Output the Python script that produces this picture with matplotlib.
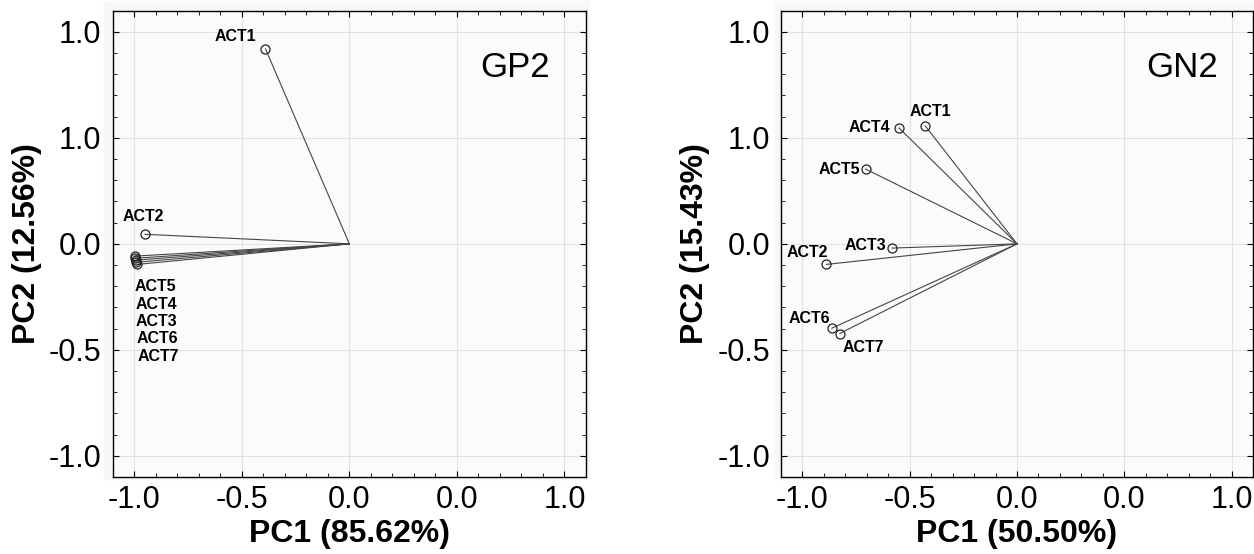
import matplotlib
matplotlib.use("Agg")
import matplotlib.pyplot as plt
from matplotlib.ticker import MultipleLocator
from matplotlib.patches import Rectangle

plt.rcParams['font.family'] = ['Liberation Sans', 'DejaVu Sans']

# ---- data (loadings) ----
gp2_names = ['ACT1', 'ACT2', 'ACT5', 'ACT4', 'ACT3', 'ACT6', 'ACT7']
gp2_pc1 = [-0.39, -0.95, -0.998, -0.995, -0.992, -0.99, -0.985]
gp2_pc2 = [0.92, 0.045, -0.058, -0.068, -0.077, -0.087, -0.097]

gn2_names = ['ACT1', 'ACT2', 'ACT3', 'ACT4', 'ACT5', 'ACT6', 'ACT7']
gn2_pc1 = [-0.428, -0.888, -0.582, -0.55, -0.706, -0.863, -0.826]
gn2_pc2 = [0.557, -0.097, -0.02, 0.547, 0.353, -0.398, -0.423]

tick_vals = [-1.0, -0.5, 0.0, 0.5, 1.0]
xtick_labels = ['-1.0', '-0.5', '0.0', '0.0', '1.0']
ytick_labels = ['-1.0', '-0.5', '0.0', '1.0', '1.0']

# label placement: offset in points, ha, va
gp2_lab = {'ACT1': (-7, 9, 'right', 'center'), 'ACT2': (-1, 13, 'center', 'center'),
           'ACT5': (0, -22, 'left', 'center'), 'ACT4': (0, -33, 'left', 'center'),
           'ACT3': (0, -44, 'left', 'center'), 'ACT6': (0, -55, 'left', 'center'),
           'ACT7': (0, -66, 'left', 'center')}
gn2_lab = {'ACT1': (3.5, 10, 'center', 'center'), 'ACT2': (1.5, 8.6, 'right', 'center'),
           'ACT3': (-4.5, 2, 'right', 'center'), 'ACT4': (-6, 0, 'right', 'center'),
           'ACT5': (-3.6, 0, 'right', 'center'), 'ACT6': (-1.2, 6.7, 'right', 'center'),
           'ACT7': (2, -10.3, 'left', 'center')}


def panel(ax, names, pc1, pc2, labs, tag, xlab, ylab):
    ax.set_facecolor('#fbfbfb')
    for n, x, y in zip(names, pc1, pc2):
        ax.plot([0, x], [0, y], color='#454545', lw=0.8, zorder=2)
        ax.plot(x, y, 'o', mfc='none', mec='#222222', ms=6.5, mew=0.9, zorder=3)
        dx, dy, ha, va = labs[n]
        ax.annotate(n, (x, y), xytext=(dx, dy), textcoords='offset points',
                    ha=ha, va=va, fontsize=11.5, fontweight='bold')
    ax.set_xlim(-1.1, 1.1)
    ax.set_ylim(-1.1, 1.1)
    ax.set_xticks(tick_vals)
    ax.set_xticklabels(xtick_labels)
    ax.set_yticks(tick_vals)
    ax.set_yticklabels(ytick_labels)
    ax.xaxis.set_minor_locator(MultipleLocator(0.1))
    ax.yaxis.set_minor_locator(MultipleLocator(0.1))
    ax.tick_params(which='both', direction='in', top=True, right=True,
                   labelsize=22)
    ax.tick_params(axis='x', pad=6)
    ax.tick_params(axis='y', pad=8)
    ax.tick_params(which='major', length=4)
    ax.tick_params(which='minor', length=3)
    ax.grid(True, which='major', color='#e2e2e2', lw=0.8, zorder=0)
    ax.set_axisbelow(True)
    for s in ax.spines.values():
        s.set_linewidth(1.0)
    ax.set_xlabel(xlab, fontsize=23, fontweight='bold', labelpad=3)
    ax.set_ylabel(ylab, fontsize=23, fontweight='bold', labelpad=5)
    ax.text(0.77, 0.83, tag, fontsize=25, ha='center', va='center')


fig = plt.figure(figsize=(12.54, 5.54), dpi=100)
# faint backdrop behind each plot area
fig.patches.append(Rectangle((104 / 1254, 75 / 554), 485 / 1254, 478 / 554,
                             transform=fig.transFigure, color='#f7f7f7', zorder=-5))
fig.patches.append(Rectangle((775 / 1254, 75 / 554), 479 / 1254, 478 / 554,
                             transform=fig.transFigure, color='#f7f7f7', zorder=-5))

ax1 = fig.add_axes([0.0899, 0.139, 0.3774, 0.8417])
ax2 = fig.add_axes([0.6228, 0.139, 0.3764, 0.8417])

panel(ax1, gp2_names, gp2_pc1, gp2_pc2, gp2_lab, 'GP2', 'PC1 (85.62%)', 'PC2 (12.56%)')
panel(ax2, gn2_names, gn2_pc1, gn2_pc2, gn2_lab, 'GN2', 'PC1 (50.50%)', 'PC2 (15.43%)')

fig.savefig('out.png', dpi=100)
